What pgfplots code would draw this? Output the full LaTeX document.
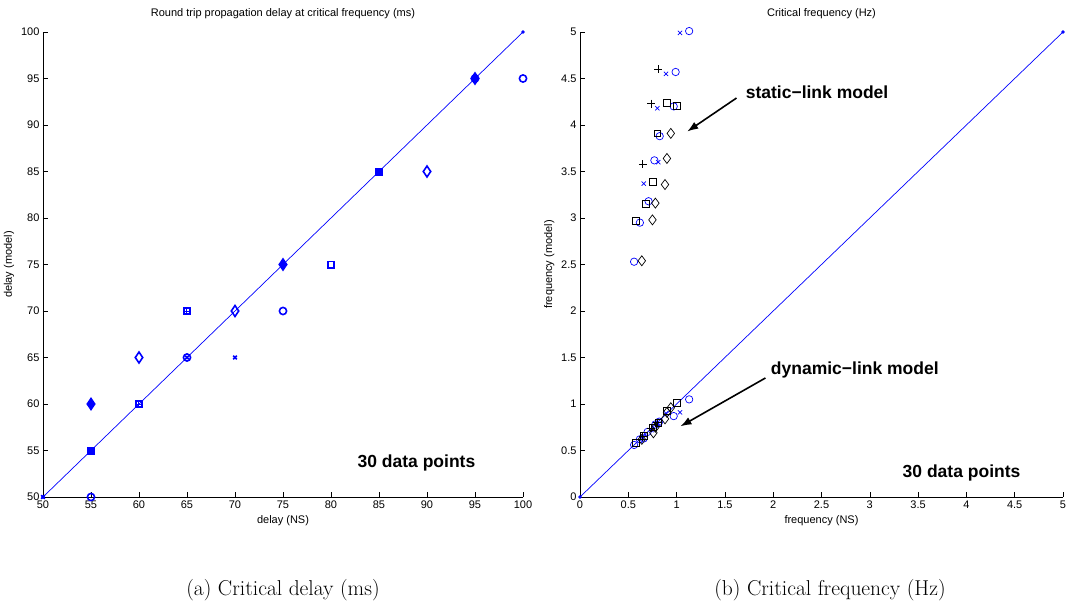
\documentclass[border=0pt]{standalone}
\usepackage{fontspec}
\newfontfamily\arial{Liberation Sans}
\usepackage{pgfplots}
\pgfplotsset{compat=1.18}
\usetikzlibrary{arrows.meta}

\pgfplotsset{
  mlab/.style={
    scale only axis, height=465pt,
    axis lines=left, axis line style={-, line width=0.7pt},
    tick align=inside, major tick length=5pt, tick style={line width=0.6pt, black},
    /pgf/number format/assume math mode=true,
    tick label style={font=\arial\fontsize{11}{13}\selectfont},
    label style={font=\arial\fontsize{11}{13}\selectfont},
    title style={font=\arial\fontsize{11}{13}\selectfont, yshift=4pt},
    clip=false,
  },
  bmk/.style={only marks, blue, line width=1.6pt},
  bl/.style={only marks, blue, line width=0.7pt},
  kl/.style={only marks, black, line width=0.7pt},
}

\begin{document}
\begin{tikzpicture}
\path[use as bounding box] (-43pt,-109pt) rectangle (1025pt,497pt);

% (a) delay
\begin{axis}[mlab, width=480pt, at={(0pt,0pt)},
  xmin=50, xmax=100, ymin=50, ymax=100,
  xtick={50,55,...,100}, ytick={50,55,...,100},
  title={Round trip propagation delay at critical frequency (ms)},
  xlabel={delay (NS)}, ylabel={delay (model)}]
\addplot[blue, line width=0.7pt, mark=*, mark size=1.3pt] coordinates {(50,50)(100,100)};
\addplot[bmk, mark=o, mark size=3.6pt] coordinates {(55,50)(65,65)(75,70)(100,95)(95,95)};
\addplot[bmk, mark=square*, mark size=3.2pt] coordinates {(55,55)(85,85)};
\addplot[bmk, mark=diamond*, mark size=5.5pt, mark options={xscale=0.9}] coordinates {(55,60)(75,75)(95,95)};
\addplot[bmk, mark=diamond, mark size=5.5pt, mark options={xscale=0.9}] coordinates {(60,65)(70,70)(90,85)};
\addplot[bmk, mark=square, mark size=3.2pt] coordinates {(60,60)(65,70)(80,75)};
\addplot[only marks, blue, line width=1pt, mark=+, mark size=3pt] coordinates {(60,60)(65,70)};
\addplot[bmk, mark=x, mark size=2.5pt] coordinates {(70,65)(50,50)(65,65)};
\node[font=\arial\bfseries\fontsize{17.5}{21}\selectfont] at (axis cs:88.9,53.7) {30 data points};
\end{axis}

% (b) frequency
\begin{axis}[mlab, width=483pt, at={(537pt,0pt)},
  xmin=0, xmax=5, ymin=0, ymax=5,
  xtick={0,0.5,1,1.5,2,2.5,3,3.5,4,4.5,5},
  ytick={0,0.5,1,1.5,2,2.5,3,3.5,4,4.5,5},
  title={Critical frequency (Hz)},
  xlabel={frequency (NS)}, ylabel={frequency (model)}]
\addplot[blue, line width=0.7pt, mark=*, mark size=1.3pt] coordinates {(0,0)(5,5)};
% static-link model
\addplot[bl, mark=o, mark size=3.7pt] coordinates {(1.13,5.01)(0.99,4.57)(0.97,4.20)(0.825,3.88)(0.77,3.62)(0.71,3.18)(0.62,2.95)(0.56,2.53)};
\addplot[bl, mark=x, mark size=3pt] coordinates {(1.035,4.99)(0.89,4.55)(0.80,4.18)(0.81,3.60)(0.66,3.37)};
\addplot[kl, mark=+, mark size=4pt] coordinates {(0.81,4.60)(0.74,4.23)(0.65,3.58)};
\addplot[kl, mark=square, mark size=3.4pt] coordinates {(0.90,4.24)(1.00,4.21)(0.80,3.91)(0.75,3.39)(0.68,3.15)(0.58,2.97)};
\addplot[kl, mark=diamond, mark size=5pt] coordinates {(0.94,3.91)(0.90,3.64)(0.88,3.36)(0.78,3.16)(0.75,2.98)(0.64,2.54)};
% dynamic-link model
\addplot[bl, mark=o, mark size=3.7pt] coordinates {(0.56,0.56)(0.62,0.62)(0.66,0.63)(0.70,0.70)(0.78,0.78)(0.82,0.81)(0.97,0.87)(1.13,1.05)};
\addplot[bl, mark=x, mark size=3pt] coordinates {(0.65,0.63)(0.74,0.72)(0.81,0.79)(0.89,0.90)(1.035,0.91)};
\addplot[kl, mark=+, mark size=4pt] coordinates {(0.65,0.65)(0.74,0.74)(0.80,0.80)};
\addplot[kl, mark=square, mark size=3.4pt] coordinates {(0.58,0.58)(0.66,0.66)(0.75,0.75)(0.81,0.80)(0.90,0.93)(1.00,1.01)};
\addplot[kl, mark=diamond, mark size=5pt] coordinates {(0.64,0.62)(0.76,0.69)(0.78,0.75)(0.88,0.84)(0.90,0.91)(0.94,0.96)};
\node[anchor=west, font=\arial\bfseries\fontsize{17.5}{21}\selectfont] at (axis cs:1.68,4.35) {static−link model};
\draw[-{Latex[length=11pt,width=8pt]}, line width=1.6pt] (axis cs:1.62,4.29) -- (axis cs:1.11,3.93);
\node[anchor=west, font=\arial\bfseries\fontsize{17.5}{21}\selectfont] at (axis cs:1.94,1.37) {dynamic−link model};
\draw[-{Latex[length=11pt,width=8pt]}, line width=1.6pt] (axis cs:1.92,1.28) -- (axis cs:1.04,0.76);
\node[font=\arial\bfseries\fontsize{17.5}{21}\selectfont] at (axis cs:3.95,0.26) {30 data points};
\end{axis}

\node[font=\fontsize{21.5}{25}\selectfont] at (240pt,-93pt) {(a) Critical delay (ms)};
\node[font=\fontsize{21.5}{25}\selectfont] at (787pt,-93pt) {(b) Critical frequency (Hz)};
\end{tikzpicture}
\end{document}
